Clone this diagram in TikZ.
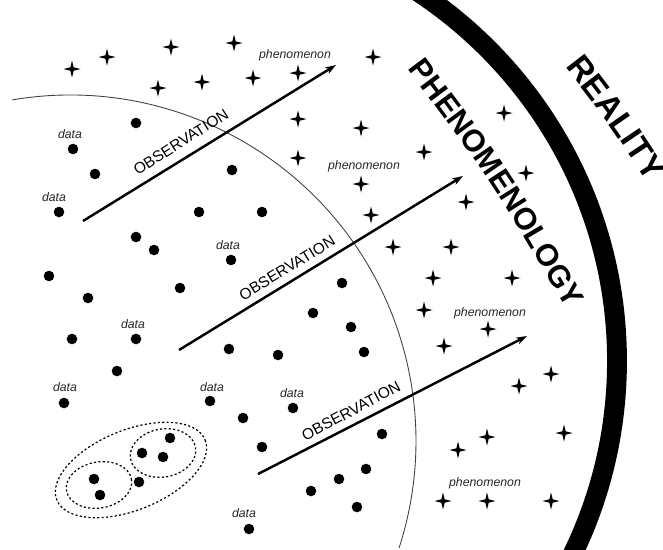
\documentclass[tikz,border=0pt]{standalone}
\usepackage{fontspec}
\setmainfont{Liberation Sans}
\usetikzlibrary{arrows.meta, decorations.text}

\newcommand{\bigfont}{\bfseries\fontsize{17.5}{18}\selectfont}
\newcommand{\realfont}{\bfseries\fontsize{19}{20}\selectfont}

\begin{document}
\begin{tikzpicture}[x=0.02cm, y=-0.02cm, >={Stealth[length=6pt, width=4pt, inset=1.5pt]},
    datalbl/.style={font=\fontsize{7}{8}\selectfont\itshape, text=black!85, inner sep=0pt},
    obslbl/.style={font=\fontsize{8.8}{10}\selectfont, inner sep=0pt},
    obsarrow/.style={->, line width=1.4pt},
    groupline/.style={line width=0.7pt, dash pattern=on 1.2pt off 1.3pt},
    phstar/.pic={\fill (-8.5,0) -- (-1.7,-1.7) -- (0,-8.5) -- (1.7,-1.7) -- (8.5,0)
      -- (1.7,1.7) -- (0,8.5) -- (-1.7,1.7) -- cycle;}]
    \clip (0,0) rectangle (663,549);

    % Reality (thick outer arc)
    \draw[line width=11.3pt] (175,361) circle (442);
    % Phenomenology border (thin arc)
    \draw[black!75, line width=0.5pt] (70,441) ++(260.4:346) arc[start angle=260.4, end angle=378, radius=346];

    % Big curved titles
    \path[decorate, decoration={text along path, text align=center,
      text={|\bigfont|PHENOMENOLOGY}}] (395,52) .. controls (494,184) .. (577,328);
    \path[decorate, decoration={text along path, text align=center,
      text={|\realfont|REALITY}}] (541,36) .. controls (609,123) .. (669,216);

    % Phenomena (stars)
    \foreach \p in {(72,69), (107,57), (171,47), (234,43), (158,88), (202,82), (253,78),
      (298,73), (298,119), (298,158), (373,57), (361,128), (424,152), (361,184),
      (504,113), (526,173), (371,215), (393,247), (451,247), (466,202), (433,278),
      (512,278), (424,310), (488,329), (444,346), (551,374), (519,386), (564,433),
      (487,437), (458,450), (443,501), (487,501), (551,501)}
      \pic at \p {phstar};

    % Data (dots)
    \foreach \p in {(136,123), (73,149), (95,174), (232,170), (59,212), (199,212),
      (262,212), (136,237), (154,250), (231,260), (49,276), (180,288), (88,298),
      (72,339), (136,339), (117,371), (229,349), (278,355), (313,313), (342,283),
      (351,327), (364,352), (64,403), (210,401), (243,418), (262,447), (293,408),
      (382,434), (366,469), (339,479), (311,491), (357,507), (249,529),
      (94,479), (100,495), (139,482), (142,453), (163,457), (170,438)}
      \fill \p circle (5.3);

    % Groups of data (dotted)
    \draw[groupline, rotate around={22:(131,470)}] (131,470) ellipse [x radius=80, y radius=40];
    \draw[groupline, rotate around={10:(99,485)}] (99,485) ellipse [x radius=33, y radius=23];
    \draw[groupline, rotate around={10:(163,453)}] (163,453) ellipse [x radius=33, y radius=24];

    % Labels
    \node[datalbl] (dat1) at (70,134) {data};
    \node[datalbl] (dat2) at (54,197) {data};
    \node[datalbl] (dat3) at (228,245) {data};
    \node[datalbl] (dat4) at (133,324) {data};
    \node[datalbl] (dat5) at (65,387) {data};
    \node[datalbl] (dat6) at (212,387) {data};
    \node[datalbl] (dat7) at (292,393) {data};
    \node[datalbl] (dat8) at (244,513) {data};
    \node[datalbl] (phen1) at (295,55) {phenomenon};
    \node[datalbl] (phen2) at (364,166) {phenomenon};
    \node[datalbl] (phen3) at (490,313) {phenomenon};
    \node[datalbl] (phen4) at (485,483) {phenomenon};

    % Observation arrows
    \coordinate (obs1a) at (83,221);
    \coordinate (obs1b) at (336,65);
    \coordinate (obs2a) at (179,350);
    \coordinate (obs2b) at (463,176);
    \coordinate (obs3a) at (258,474);
    \coordinate (obs3b) at (527,336);
    \draw[obsarrow] (obs1a) -- (obs1b);
    \draw[obsarrow] (obs2a) -- (obs2b);
    \draw[obsarrow] (obs3a) -- (obs3b);
    \node[obslbl, rotate=32.5] (obs1) at (181,142) {OBSERVATION};
    \node[obslbl, rotate=31.5] (obs2) at (287,268) {OBSERVATION};
    \node[obslbl, rotate=28] (obs3) at (351,411) {OBSERVATION};
  \end{tikzpicture}
\end{document}
